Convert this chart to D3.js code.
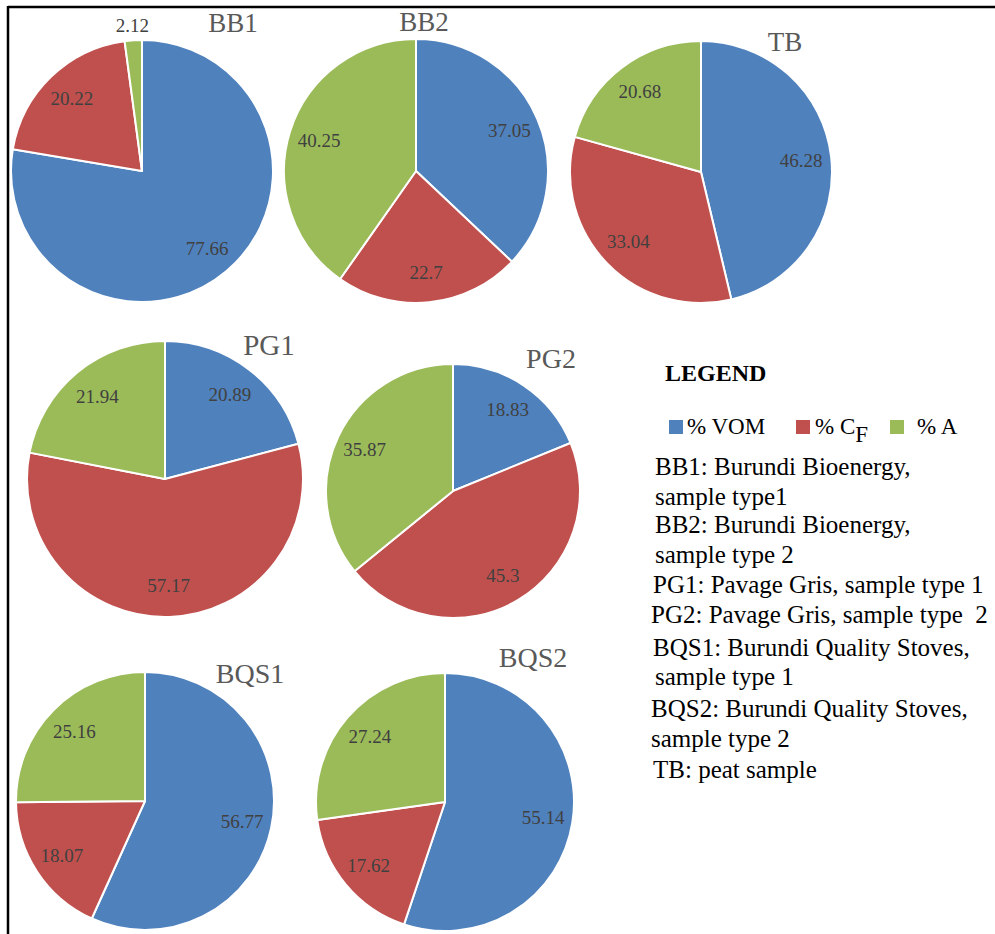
<!DOCTYPE html>
<html>
<head>
<meta charset="utf-8">
<script src="https://cdn.jsdelivr.net/npm/d3@7"></script>
<style>
  html, body { margin: 0; padding: 0; background: #fff; }
  svg { display: block; }
</style>
</head>
<body>
<svg id="chart" width="995" height="934"></svg>
<script>
// Proximate composition per sample (percent)
const samples = ["BB1", "BB2", "TB", "PG1", "PG2", "BQS1", "BQS2"];
const components = ["% VOM", "% CF", "% A"];
const vom = [77.66, 37.05, 46.28, 20.89, 18.83, 56.77, 55.14];
const fixedCarbon = [20.22, 22.7, 33.04, 57.17, 45.3, 18.07, 17.62];
const ash = [2.12, 40.25, 20.68, 21.94, 35.87, 25.16, 27.24];

const legendLines = [
  "BB1: Burundi Bioenergy,",
  "sample type1",
  "BB2: Burundi Bioenergy,",
  "sample type 2",
  "PG1: Pavage Gris, sample type 1",
  "PG2: Pavage Gris, sample type\u00a0 2",
  "BQS1: Burundi Quality Stoves,",
  "sample type 1",
  "BQS2: Burundi Quality Stoves,",
  "sample type 2",
  "TB: peat sample"
];

const SERIF = "'Liberation Serif', Tinos, 'Times New Roman', Times, 'DejaVu Serif', 'Noto Serif', serif";

// Placement of each pie panel (centre, radius, title anchor and size)
const panels = {
  BB1:  { cx: 142, cy: 171, r: 131, tx: 233, ty: 32,  fs: 27 },
  BB2:  { cx: 416, cy: 171, r: 132, tx: 424, ty: 31,  fs: 27 },
  TB:   { cx: 701, cy: 172, r: 131, tx: 785, ty: 51,  fs: 27 },
  PG1:  { cx: 165, cy: 479, r: 138, tx: 269, ty: 355, fs: 29 },
  PG2:  { cx: 453, cy: 491, r: 127, tx: 551, ty: 368, fs: 28 },
  BQS1: { cx: 145, cy: 801, r: 129, tx: 250, ty: 683, fs: 28 },
  BQS2: { cx: 445, cy: 802, r: 129, tx: 533, ty: 667, fs: 28 }
};

const color = d3.scaleOrdinal()
  .domain(components)
  .range(["#4F81BD", "#C0504D", "#9BBB59"]);

const svg = d3.select("#chart").attr("font-family", SERIF);

// Frame: top and left rules
svg.append("line").attr("x1", 8).attr("x2", 995).attr("y1", 7).attr("y2", 7)
  .attr("stroke", "#000").attr("stroke-width", 2.5);
svg.append("line").attr("x1", 8).attr("x2", 8).attr("y1", 6).attr("y2", 934)
  .attr("stroke", "#000").attr("stroke-width", 2.5);

const pie = d3.pie().sort(null).value(d => d.value);

samples.forEach((name, i) => {
  const p = panels[name];
  const rows = components.map((c, k) => ({
    key: c,
    value: [vom, fixedCarbon, ash][k][i]
  }));
  const arcs = pie(rows);
  const total = d3.sum(rows, d => d.value);

  const g = svg.append("g").attr("transform", `translate(${p.cx},${p.cy})`);
  const arc = d3.arc().innerRadius(0).outerRadius(p.r);
  const labelArc = d3.arc().innerRadius(p.r * 0.77).outerRadius(p.r * 0.77);
  const outerLabelArc = d3.arc().innerRadius(p.r * 1.11).outerRadius(p.r * 1.11);

  g.selectAll("path.slice").data(arcs).join("path")
    .attr("class", "slice")
    .attr("d", arc)
    .attr("fill", d => color(d.data.key))
    .attr("stroke", "#fff")
    .attr("stroke-width", 2)
    .attr("stroke-linejoin", "round");

  g.selectAll("text.val").data(arcs).join("text")
    .attr("class", "val")
    .attr("transform", d => {
      const small = d.data.value / total < 0.05;
      const c = (small ? outerLabelArc : labelArc).centroid(d);
      return `translate(${c[0]},${c[1]})`;
    })
    .attr("text-anchor", "middle")
    .attr("dominant-baseline", "central")
    .attr("font-family", SERIF)
    .attr("font-size", 19)
    .attr("fill", "#404040")
    .text(d => d.data.value);

  svg.append("text")
    .attr("x", p.tx).attr("y", p.ty)
    .attr("text-anchor", "middle")
    .attr("font-family", SERIF)
    .attr("font-size", p.fs)
    .attr("fill", "#595959")
    .text(name);
});

// Legend
const lg = svg.append("g").attr("font-family", SERIF);
lg.append("text").attr("x", 665).attr("y", 381)
  .attr("font-size", 24).attr("font-weight", "bold").attr("fill", "#000")
  .text("LEGEND");

const keyItems = [
  { key: components[0], sx: 669, tx: 687, main: "% VOM", sub: null },
  { key: components[1], sx: 796, tx: 815, main: "% C", sub: "F" },
  { key: components[2], sx: 890, tx: 917, main: "% A", sub: null }
];
keyItems.forEach(it => {
  lg.append("rect").attr("x", it.sx).attr("y", 420).attr("width", 14).attr("height", 14)
    .attr("fill", color(it.key));
  const t = lg.append("text").attr("x", it.tx).attr("y", 434)
    .attr("font-size", 23).attr("fill", "#000").text(it.main);
  if (it.sub) {
    t.append("tspan").attr("dy", 8).text(it.sub);
  }
});

const lineX = [655, 655, 655, 655, 653, 651, 653, 655, 651, 651, 653];
const lineY = [475, 505, 533, 563, 593, 623, 656, 685, 717, 747, 778];
lg.selectAll("text.desc").data(legendLines).join("text")
  .attr("class", "desc")
  .attr("x", (d, i) => lineX[i])
  .attr("y", (d, i) => lineY[i])
  .attr("font-size", 25)
  .attr("fill", "#000")
  .attr("xml:space", "preserve")
  .text(d => d);
</script>
</body>
</html>
